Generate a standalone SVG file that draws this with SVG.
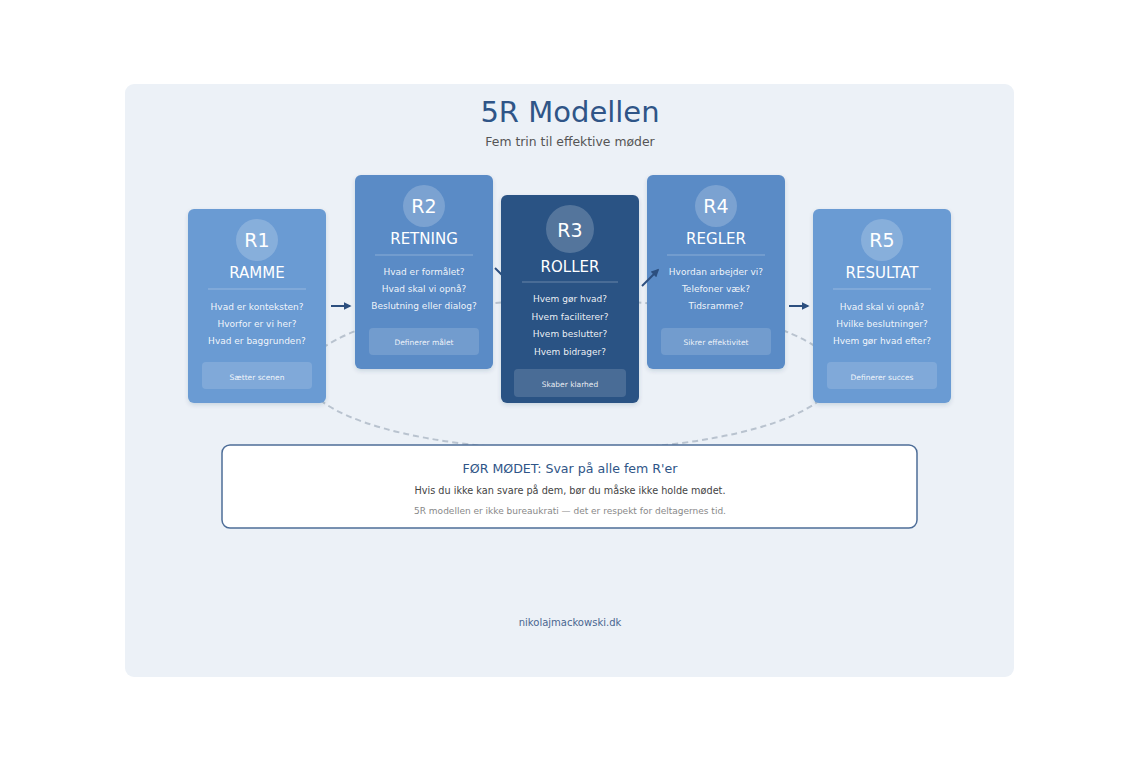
<svg xmlns="http://www.w3.org/2000/svg" width="1140" height="761" viewBox="0 0 1140 761">
<style>
text{font-family:"DejaVu Sans","Liberation Sans",sans-serif;text-anchor:middle}
.lab{fill:#fff;font-size:19px}
.ttl{fill:#fff;font-size:15px}
.q{fill:#fff;fill-opacity:.92;font-size:9px}
.btn{fill:#fff;fill-opacity:.9;font-size:7.5px}
.circ{fill:#fff;fill-opacity:.2}
.div{stroke:#fff;stroke-opacity:.3;stroke-width:1}
.bb{fill:#fff;fill-opacity:.15}
.arr{stroke:#2c4f7f;stroke-width:2;fill:none;marker-end:url(#ah)}
</style>
<defs>
<marker id="ah" viewBox="0 0 10 10" refX="8" refY="5" markerWidth="4" markerHeight="4" orient="auto"><path d="M0,0L10,5L0,10z" fill="#2c4f7f"/></marker>
<filter id="sh" x="-10%" y="-10%" width="120%" height="125%"><feDropShadow dx="0" dy="2" stdDeviation="2" flood-color="#1f3b60" flood-opacity="0.15"/></filter>
</defs>
<rect width="1140" height="761" fill="#fff"/>
<rect x="125" y="84" width="889" height="593" rx="9" fill="#ecf1f7"/>
<text x="570" y="122" font-size="29" fill="#2f5587">5R Modellen</text>
<text x="570" y="146" font-size="12.4" fill="#555">Fem trin til effektive møder</text>
<g id="loop"><ellipse cx="570" cy="375" rx="265" ry="75" fill="none" stroke="#b9c3cf" stroke-width="2" stroke-dasharray="6 4"/></g>
<g id="r1">
<rect x="188" y="209" width="138" height="194" rx="6" fill="#6a9bd3" filter="url(#sh)"/>
<circle class="circ" cx="257" cy="240" r="21"/>
<text class="lab" x="257" y="247">R1</text>
<text class="ttl" x="257" y="278">RAMME</text>
<line class="div" x1="208" y1="289" x2="306" y2="289"/>
<text class="q" x="257" y="310">Hvad er konteksten?</text>
<text class="q" x="257" y="327">Hvorfor er vi her?</text>
<text class="q" x="257" y="344">Hvad er baggrunden?</text>
<rect class="bb" x="202" y="362" width="110" height="27" rx="4"/>
<text class="btn" x="257" y="380">Sætter scenen</text>
</g>
<g id="r2">
<rect x="355" y="175" width="138" height="194" rx="6" fill="#5a8bc6" filter="url(#sh)"/>
<circle class="circ" cx="424" cy="206" r="21"/>
<text class="lab" x="424" y="213">R2</text>
<text class="ttl" x="424" y="244">RETNING</text>
<line class="div" x1="375" y1="255" x2="473" y2="255"/>
<text class="q" x="424" y="275">Hvad er formålet?</text>
<text class="q" x="424" y="292">Hvad skal vi opnå?</text>
<text class="q" x="424" y="309">Beslutning eller dialog?</text>
<rect class="bb" x="369" y="328" width="110" height="27" rx="4"/>
<text class="btn" x="424" y="345">Definerer målet</text>
</g>
<g id="r4">
<rect x="647" y="175" width="138" height="194" rx="6" fill="#5a8bc6" filter="url(#sh)"/>
<circle class="circ" cx="716" cy="206" r="21"/>
<text class="lab" x="716" y="213">R4</text>
<text class="ttl" x="716" y="244">REGLER</text>
<line class="div" x1="667" y1="255" x2="765" y2="255"/>
<text class="q" x="716" y="275">Hvordan arbejder vi?</text>
<text class="q" x="716" y="292">Telefoner væk?</text>
<text class="q" x="716" y="309">Tidsramme?</text>
<rect class="bb" x="661" y="328" width="110" height="27" rx="4"/>
<text class="btn" x="716" y="345">Sikrer effektivitet</text>
</g>
<g id="r5">
<rect x="813" y="209" width="138" height="194" rx="6" fill="#6a9bd3" filter="url(#sh)"/>
<circle class="circ" cx="882" cy="240" r="21"/>
<text class="lab" x="882" y="247">R5</text>
<text class="ttl" x="882" y="278">RESULTAT</text>
<line class="div" x1="833" y1="289" x2="931" y2="289"/>
<text class="q" x="882" y="310">Hvad skal vi opnå?</text>
<text class="q" x="882" y="327">Hvilke beslutninger?</text>
<text class="q" x="882" y="344">Hvem gør hvad efter?</text>
<rect class="bb" x="827" y="362" width="110" height="27" rx="4"/>
<text class="btn" x="882" y="380">Definerer succes</text>
</g>
<g id="connectors">
<line class="arr" x1="331" y1="306" x2="350" y2="306"/>
<line class="arr" x1="495" y1="268" x2="510" y2="283"/>
<line class="arr" x1="642" y1="286" x2="658" y2="270"/>
<line class="arr" x1="789" y1="306" x2="808" y2="306"/>
</g>
<g id="r3">
<rect x="501" y="195" width="138" height="208" rx="6" fill="#2c5284" filter="url(#sh)"/>
<circle class="circ" cx="570" cy="229" r="24"/>
<text class="lab" x="570" y="237" font-size="22">R3</text>
<text class="ttl" x="570" y="272" font-size="17.2">ROLLER</text>
<line class="div" x1="522" y1="282" x2="618" y2="282"/>
<text class="q" x="570" y="302">Hvem gør hvad?</text>
<text class="q" x="570" y="319.5">Hvem faciliterer?</text>
<text class="q" x="570" y="337">Hvem beslutter?</text>
<text class="q" x="570" y="354.5">Hvem bidrager?</text>
<rect class="bb" x="514" y="369" width="112" height="28" rx="4"/>
<text class="btn" x="570" y="387">Skaber klarhed</text>
</g>
<g id="note">
<rect x="222" y="445" width="695" height="83" rx="8" fill="#fff" stroke="#4d6d98" stroke-width="1.5"/>
<text x="570" y="473" font-size="12.6" fill="#2f5587">FØR MØDET: Svar på alle fem R'er</text>
<text x="570" y="494" font-size="9.7" fill="#444">Hvis du ikke kan svare på dem, bør du måske ikke holde mødet.</text>
<text x="570" y="514" font-size="9" fill="#888">5R modellen er ikke bureaukrati — det er respekt for deltagernes tid.</text>
</g>
<text x="570" y="626" font-size="10" fill="#4a6690">nikolajmackowski.dk</text>
</svg>
